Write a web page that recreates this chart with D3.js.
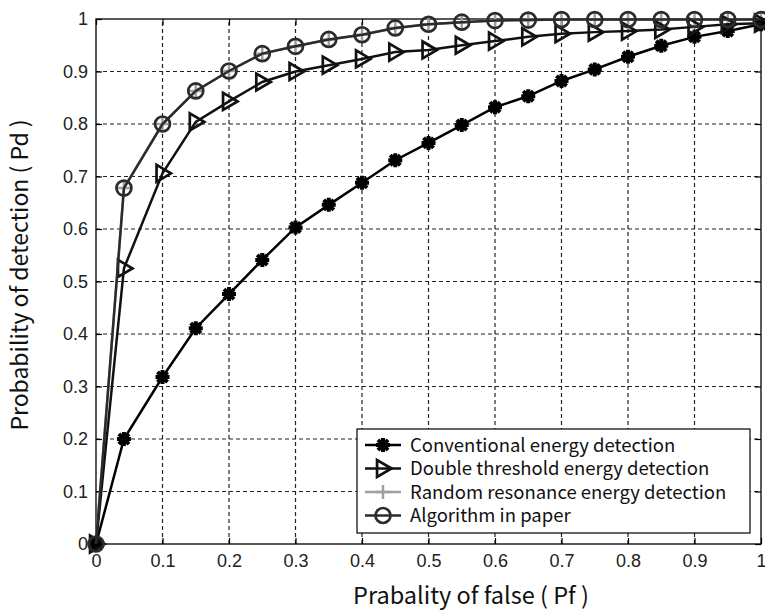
<!DOCTYPE html>
<html>
<head>
<meta charset="utf-8">
<script src="https://cdn.jsdelivr.net/npm/d3@7"></script>
<style>
  body { margin: 0; background: #fff; }
  svg { display: block; }
  .tick text { font-family: "Liberation Sans", Arial, sans-serif; font-size: 18px; fill: #222; }
</style>
</head>
<body>
<div id="chart"></div>
<script>
// x values (Pf) shared by all curves
const pf = [0, 0.042, 0.1, 0.15, 0.2, 0.25, 0.3, 0.35, 0.4, 0.45, 0.5,
  0.55, 0.6, 0.65, 0.7, 0.75, 0.8, 0.85, 0.9, 0.95, 1];

const conventional = [0, 0.2, 0.318, 0.411, 0.476, 0.541, 0.603, 0.646, 0.688, 0.731, 0.764,
  0.798, 0.832, 0.853, 0.882, 0.904, 0.928, 0.949, 0.966, 0.977, 0.99];
const doubleThreshold = [0, 0.525, 0.706, 0.804, 0.843, 0.88, 0.9, 0.912, 0.924, 0.937, 0.941,
  0.95, 0.958, 0.966, 0.972, 0.975, 0.977, 0.98, 0.985, 0.99, 0.992];
const randomResonance = [0, 0.678, 0.8, 0.863, 0.901, 0.934, 0.948, 0.961, 0.97, 0.983, 0.99,
  0.994, 0.997, 0.998, 0.999, 0.999, 0.999, 0.999, 0.999, 0.999, 0.999];
const algorithm = [0, 0.678, 0.8, 0.863, 0.901, 0.934, 0.948, 0.961, 0.97, 0.983, 0.99,
  0.994, 0.997, 0.998, 0.999, 0.999, 0.999, 0.999, 0.999, 0.999, 0.999];

const tickValues = [0, 0.1, 0.2, 0.3, 0.4, 0.5, 0.6, 0.7, 0.8, 0.9, 1];
const legendNames = ["Conventional energy detection", "Double threshold energy detection",
  "Random resonance energy detection", "Algorithm in paper"];

const width = 765, height = 610;
const margin = { left: 96, right: 4, top: 19, bottom: 66 };

const svg = d3.select("#chart").append("svg")
  .attr("width", width).attr("height", height);

const x = d3.scaleLinear().domain([0, 1]).range([margin.left, width - margin.right]);
const y = d3.scaleLinear().domain([0, 1]).range([height - margin.bottom, margin.top]);

// grid
const grid = svg.append("g").attr("stroke", "#222").attr("stroke-width", 1.2)
  .attr("stroke-dasharray", "4,3");
tickValues.slice(1, -1).forEach(t => {
  grid.append("line").attr("x1", x(t)).attr("x2", x(t)).attr("y1", y(0)).attr("y2", y(1));
  grid.append("line").attr("x1", x(0)).attr("x2", x(1)).attr("y1", y(t)).attr("y2", y(t));
});

// axes with ticks pointing inward (all four sides)
const fmt = d => d === 0 || d === 1 ? String(d) : d.toFixed(1);
const styleAxis = g => {
  g.select(".domain").remove();
  g.selectAll("line").attr("stroke", "#000").attr("stroke-width", 1.2);
};
svg.append("g").attr("transform", `translate(0,${y(0)})`)
  .call(d3.axisBottom(x).tickValues(tickValues).tickFormat(fmt).tickSize(-6).tickPadding(10))
  .call(styleAxis);
svg.append("g").attr("transform", `translate(${x(0)},0)`)
  .call(d3.axisLeft(y).tickValues(tickValues).tickFormat(fmt).tickSize(-6).tickPadding(8))
  .call(styleAxis);
svg.append("g").attr("transform", `translate(0,${y(1)})`)
  .call(d3.axisTop(x).tickValues(tickValues).tickFormat("").tickSize(-6))
  .call(styleAxis);
svg.append("g").attr("transform", `translate(${x(1)},0)`)
  .call(d3.axisRight(y).tickValues(tickValues).tickFormat("").tickSize(-6))
  .call(styleAxis);

svg.append("rect").attr("x", x(0)).attr("y", y(1))
  .attr("width", x(1) - x(0)).attr("height", y(0) - y(1))
  .attr("fill", "none").attr("stroke", "#000").attr("stroke-width", 1.3);

// marker shapes
const star = s => `M${-s},0L${s},0M0,${-s}L0,${s}M${-s * 0.72},${-s * 0.72}L${s * 0.72},${s * 0.72}M${-s * 0.72},${s * 0.72}L${s * 0.72},${-s * 0.72}`;
const triRight = s => `M${s},0L${-s * 0.7},${-s}L${-s * 0.7},${s}Z`;
const plus = s => `M${-s},0L${s},0M0,${-s}L0,${s}`;

const series = [
  { name: legendNames[2], values: randomResonance, color: "#a0a0a0", width: 2.5,
    marker: plus(7), fill: "none", mw: 2.5 },
  { name: legendNames[0], values: conventional, color: "#000", width: 2.5,
    marker: star(7), fill: "none", mw: 4 },
  { name: legendNames[1], values: doubleThreshold, color: "#111", width: 2.5,
    marker: triRight(8.5), fill: "none", mw: 2.7 },
  { name: legendNames[3], values: algorithm, color: "#2b2b2b", width: 2.5,
    marker: "circle", fill: "none", mw: 2.7 }
];

const line = d3.line().x(d => x(d[0])).y(d => y(d[1]));

const drawMarker = (g, s, cx, cy) => {
  if (s.marker === "circle") {
    g.append("circle").attr("cx", cx).attr("cy", cy).attr("r", 7.5)
      .attr("fill", "none").attr("stroke", s.color).attr("stroke-width", s.mw);
  } else {
    g.append("path").attr("d", s.marker).attr("transform", `translate(${cx},${cy})`)
      .attr("fill", s.fill).attr("stroke", s.color).attr("stroke-width", s.mw)
      .attr("stroke-linejoin", "miter");
  }
};

series.forEach(s => {
  const pts = pf.map((p, i) => [p, s.values[i]]);
  svg.append("path").datum(pts).attr("d", line)
    .attr("fill", "none").attr("stroke", s.color).attr("stroke-width", s.width);
  const mg = svg.append("g");
  pts.forEach(p => drawMarker(mg, s, x(p[0]), y(p[1])));
});

// legend
const lg = svg.append("g").attr("transform", "translate(357,429)");
lg.append("rect").attr("width", 393).attr("height", 104)
  .attr("fill", "#fff").attr("stroke", "#000").attr("stroke-width", 1.2);
const order = [series[1], series[2], series[0], series[3]];
order.forEach((s, i) => {
  const ry = 16 + i * 23.5;
  lg.append("line").attr("x1", 8).attr("x2", 44).attr("y1", ry).attr("y2", ry)
    .attr("stroke", s.color).attr("stroke-width", s.width);
  drawMarker(lg, s, 26, ry);
  lg.append("text").attr("x", 53).attr("y", ry + 6.5).text(s.name)
    .style("font-family", "'Noto Sans CJK SC', sans-serif").style("font-size", "18.5px")
    .attr("fill", "#111");
});

// axis titles
svg.append("text").attr("x", 471).attr("y", 604)
  .attr("text-anchor", "middle").text("Prabality of false ( Pf )")
  .style("font-family", "'Noto Sans CJK SC', sans-serif").style("font-size", "23.5px").attr("fill", "#111");
svg.append("text").attr("transform", "translate(28,275) rotate(-90)")
  .attr("text-anchor", "middle").text("Probability of detection ( Pd )")
  .style("font-family", "'Noto Sans CJK SC', sans-serif").style("font-size", "23px").attr("fill", "#111");
</script>
</body>
</html>
